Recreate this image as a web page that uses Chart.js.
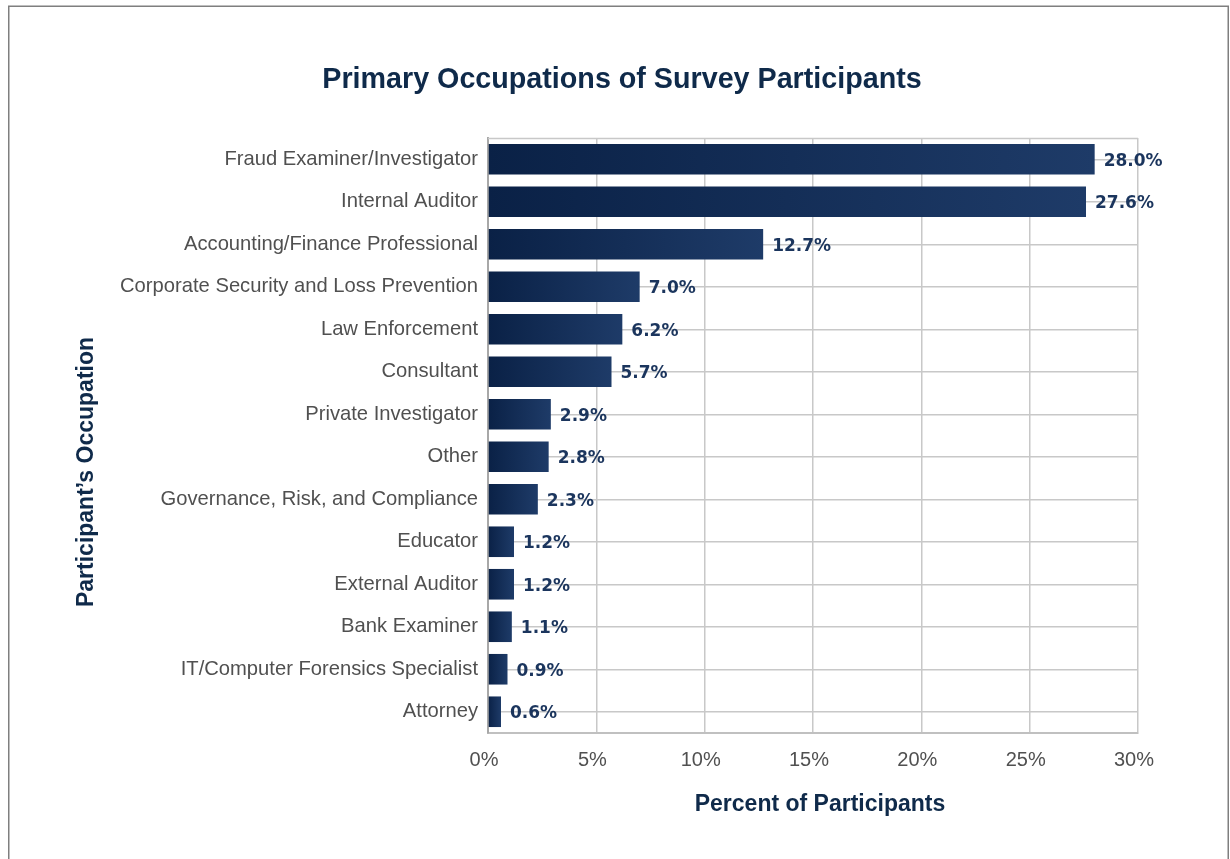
<!DOCTYPE html>
<html>
<head>
<meta charset="utf-8">
<script src="https://cdn.jsdelivr.net/npm/chart.js@4.4.1/dist/chart.umd.min.js"></script>
<style>
  html, body { margin: 0; padding: 0; background: #ffffff; }
  canvas { display: block; }
</style>
</head>
<body>
<canvas id="c" width="1230" height="859"></canvas>
<script>
const chartTitle = "Primary Occupations of Survey Participants";
const xAxisTitle = "Percent of Participants";
const yAxisTitle = "Participant\u2019s Occupation";
const occupations = [
  "Fraud Examiner/Investigator",
  "Internal Auditor",
  "Accounting/Finance Professional",
  "Corporate Security and Loss Prevention",
  "Law Enforcement",
  "Consultant",
  "Private Investigator",
  "Other",
  "Governance, Risk, and Compliance",
  "Educator",
  "External Auditor",
  "Bank Examiner",
  "IT/Computer Forensics Specialist",
  "Attorney"
];
const percentValues = [28.0, 27.6, 12.7, 7.0, 6.2, 5.7, 2.9, 2.8, 2.3, 1.2, 1.2, 1.1, 0.9, 0.6];
const xTickMin = 0;
const xTickMax = 30;
const xTickStep = 5;

const NAVY = "#0f2a4a";
const LABEL_NAVY = "#1b355d";
const GRID = "#c8c8c8";

function barGradient(context) {
  const chart = context.chart;
  const xs = chart.scales.x;
  if (!chart.chartArea || !xs || context.dataIndex === undefined) return "#132f58";
  const v = context.raw;
  const x0 = xs.getPixelForValue(0);
  const x1 = xs.getPixelForValue(v);
  const g = chart.ctx.createLinearGradient(x0, 0, Math.max(x1, x0 + 1), 0);
  g.addColorStop(0, "#0a2146");
  g.addColorStop(1, "#1e3b68");
  return g;
}

const decorPlugin = {
  id: "decor",
  beforeDraw(chart) {
    const ctx = chart.ctx;
    ctx.save();
    ctx.fillStyle = "#ffffff";
    ctx.fillRect(0, 0, chart.width, chart.height);
    ctx.strokeStyle = "#7f7f7f";
    ctx.lineWidth = 1.5;
    ctx.beginPath();
    ctx.moveTo(8.75, 870);
    ctx.lineTo(8.75, 6.25);
    ctx.lineTo(1228.25, 6.25);
    ctx.lineTo(1228.25, 870);
    ctx.stroke();
    // main title
    ctx.fillStyle = NAVY;
    ctx.font = "bold 28.7px 'Liberation Sans', Arial, sans-serif";
    ctx.textAlign = "center";
    ctx.textBaseline = "alphabetic";
    ctx.fillText(chartTitle, 622, 88);
    // x axis title
    ctx.font = "bold 23px 'Liberation Sans', Arial, sans-serif";
    ctx.fillText(xAxisTitle, 820, 811);
    // y axis title
    ctx.save();
    ctx.translate(87, 472);
    ctx.rotate(-Math.PI / 2);
    ctx.textBaseline = "middle";
    ctx.fillText(yAxisTitle, 0, 0);
    ctx.restore();
    ctx.restore();
  },
  beforeDatasetsDraw(chart) {
    const ctx = chart.ctx;
    const a = chart.chartArea;
    ctx.save();
    ctx.strokeStyle = GRID;
    ctx.lineWidth = 1.5;
    ctx.beginPath();
    ctx.moveTo(a.left, a.top + 0.5);
    ctx.lineTo(a.right, a.top + 0.5);
    ctx.stroke();
    ctx.restore();
  },
  afterDatasetsDraw(chart) {
    const ctx = chart.ctx;
    const meta = chart.getDatasetMeta(0);
    ctx.save();
    ctx.fillStyle = LABEL_NAVY;
    ctx.font = "bold 17px 'DejaVu Sans', Verdana, sans-serif";
    ctx.textAlign = "left";
    ctx.textBaseline = "middle";
    meta.data.forEach((el, i) => {
      const v = chart.data.datasets[0].data[i];
      ctx.fillText(v.toFixed(1) + "%", el.x + 9, el.y + 2);
    });
    ctx.restore();
  }
};

new Chart(document.getElementById("c"), {
  type: "bar",
  data: {
    labels: occupations,
    datasets: [{
      data: percentValues,
      backgroundColor: barGradient,
      borderWidth: 0,
      barPercentage: 0.72,
      categoryPercentage: 1.0
    }]
  },
  options: {
    indexAxis: "y",
    responsive: false,
    animation: false,
    devicePixelRatio: 1,
    layout: { padding: { top: 138, right: 92, bottom: 0, left: 0 } },
    plugins: {
      legend: { display: false },
      title: { display: false },
      tooltip: { enabled: false }
    },
    scales: {
      x: {
        type: "linear",
        min: xTickMin,
        max: xTickMax,
        afterFit(scale) { scale.height = 126; },
        ticks: {
          stepSize: xTickStep,
          callback: (v) => v + "%",
          color: "#505050",
          font: { family: "'Liberation Sans', Arial, sans-serif", size: 20 },
          padding: 15,
          labelOffset: -4,
          maxRotation: 0
        },
        grid: { color: GRID, lineWidth: 1.5, drawTicks: false },
        border: { color: "#c0c0c0", width: 2 }
      },
      y: {
        afterFit(scale) { scale.width = 488; },
        ticks: {
          color: "#505050",
          font: { family: "'Liberation Sans', Arial, sans-serif", size: 20.2 },
          padding: 10,
          autoSkip: false
        },
        grid: { color: GRID, lineWidth: 1.5, offset: false, drawTicks: false },
        border: { color: "#a8a8a8", width: 2 }
      }
    }
  },
  plugins: [decorPlugin]
});
</script>
</body>
</html>
